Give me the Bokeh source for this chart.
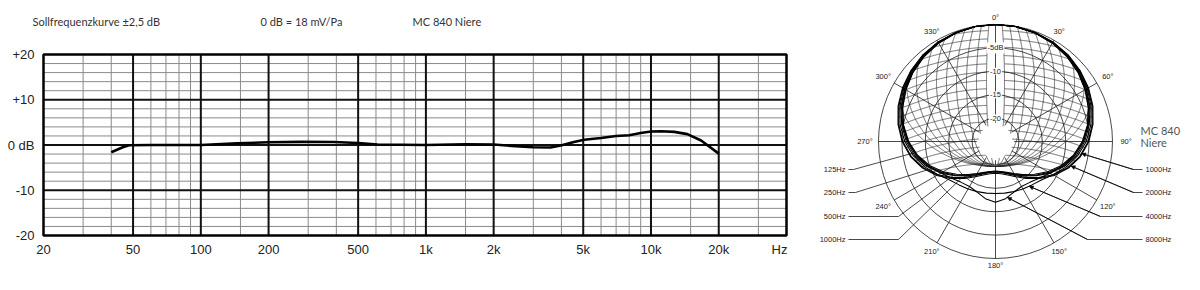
import numpy as np
from bokeh.plotting import figure
from bokeh.layouts import row
from bokeh.models import Range1d, Arrow, NormalHead
from bokeh.core.properties import value
from bokeh.embed import file_html
from bokeh.resources import INLINE

# ---------------- data: frequency response ----------------
freq_hz = [40, 45, 48, 60, 100, 145, 200, 280, 390, 500, 610, 1000, 1500, 2000, 2500,
           3000, 3580, 3970, 4550, 5050, 6000, 7000, 8000, 9000, 10000, 11100, 12700,
           14500, 16700, 20000]
level_db = [-1.6, -0.5, -0.05, 0.0, 0.0, 0.35, 0.6, 0.7, 0.65, 0.45, 0.1, 0.0, 0.15, 0.1, -0.25,
            -0.5, -0.55, -0.1, 0.65, 1.15, 1.55, 2.0, 2.15, 2.65, 3.0, 3.05, 2.9,
            2.4, 1.0, -1.9]

x_tick_values = [20, 50, 100, 200, 500, 1000, 2000, 5000, 10000, 20000]
x_tick_labels = ["20", "50", "100", "200", "500", "1k", "2k", "5k", "10k", "20k"]
x_unit_label = "Hz"
y_tick_values = [-20, -10, 0, 10, 20]
y_tick_labels = ["-20", "-10", "0 dB", "+10", "+20"]
x_grid_major = [50, 100, 200, 500, 1000, 2000, 5000, 10000, 20000]
x_grid_minor = [30, 40, 60, 70, 80, 90, 150, 300, 400, 600, 700, 800, 900, 1500,
                3000, 4000, 6000, 7000, 8000, 9000, 15000, 30000]
y_grid_major = [-10, 0, 10]
y_grid_minor = [-18, -16, -14, -12, -8, -6, -4, -2, 2, 4, 6, 8, 12, 14, 16, 18]
x_min, x_max = 20, 40000
y_min, y_max = -20, 20
header_texts = ["Sollfrequenzkurve ±2,5 dB", "0 dB = 18 mV/Pa", "MC 840 Niere"]

# ---------------- data: polar pattern (dB, symmetric, 0..180 deg) ----------------
polar_angles = [0, 10, 20, 30, 40, 50, 60, 70, 80, 90, 100, 110, 120, 130, 140, 150, 160, 170, 180]
pattern_125 = [0, -0.05, -0.25, -0.6, -1.1, -1.75, -2.55, -3.5, -4.65, -5.95, -7.5, -9.4, -11.5, -13.6, -15.4, -16.8, -17.8, -18.4, -18.6]
pattern_250 = [0, -0.05, -0.25, -0.6, -1.15, -1.85, -2.65, -3.65, -4.85, -6.2, -7.8, -9.7, -11.8, -13.8, -15.6, -17.0, -17.9, -18.4, -18.6]
pattern_500 = [0, -0.05, -0.3, -0.65, -1.2, -1.95, -2.8, -3.85, -5.05, -6.45, -8.1, -10.0, -12.1, -14.1, -15.8, -17.1, -18.0, -18.5, -18.7]
pattern_1000 = [0, -0.05, -0.2, -0.5, -0.95, -1.5, -2.2, -3.0, -4.0, -5.2, -6.7, -8.6, -10.8, -13.0, -15.0, -16.6, -17.7, -18.3, -18.5]
pattern_2000 = [0, -0.05, -0.2, -0.45, -0.85, -1.4, -2.05, -2.85, -3.85, -5.05, -6.55, -8.4, -10.5, -12.7, -14.7, -16.3, -17.4, -18.0, -18.2]
pattern_4000 = [0, -0.05, -0.25, -0.55, -1.0, -1.6, -2.35, -3.25, -4.3, -5.6, -7.2, -9.0, -10.8, -12.2, -12.9, -13.3, -13.6, -13.8, -13.9]
pattern_8000 = [0, -0.1, -0.35, -0.75, -1.3, -2.0, -2.9, -3.9, -5.0, -6.3, -7.9, -9.7, -11.5, -12.8, -13.6, -13.9, -13.5, -12.6, -12.0]
patterns = {"125Hz": pattern_125, "250Hz": pattern_250, "500Hz": pattern_500,
            "1000Hz": pattern_1000, "2000Hz": pattern_2000, "4000Hz": pattern_4000,
            "8000Hz": pattern_8000}

ring_db = [0, -5, -10, -15, -20]
ring_label_db = [-5, -10, -15, -20]
ring_labels = ["-5dB", "-10", "-15", "-20"]
spoke_angles = [0, 30, 60, 90, 120, 150, 180, 210, 240, 270, 300, 330]
spoke_labels = ["0°", "30°", "60°", "90°", "120°", "150°", "180°", "210°", "240°", "270°", "300°", "330°"]
left_labels = ["125Hz", "250Hz", "500Hz", "1000Hz"]
left_targets_deg = [262, 247, 231, 223]
right_labels = ["1000Hz", "2000Hz", "4000Hz", "8000Hz"]
right_targets_deg = [98, 108, 143, 168]
model_texts = ["MC 840", "Niere"]

# ---------------- frequency response figure ----------------
H = 290
W1 = 800
FL, FR, FT, FB = 43, 786, 54, 235
TXT_FONT = "Lato"
LAB_FONT = "Liberation Sans"

dec = np.log10(x_max / x_min)
def fx(px):
    return x_min * 10 ** ((px - FL) / (FR - FL) * dec)
def fy(py):
    return y_max - (py - FT) / (FB - FT) * (y_max - y_min)

p = figure(width=W1, height=H, x_axis_type="log", x_range=Range1d(fx(0), fx(W1)),
           y_range=Range1d(fy(H), fy(0)), output_backend="svg", toolbar_location=None,
           x_axis_location=None, y_axis_location=None, min_border=0)
p.xgrid.visible = False
p.ygrid.visible = False
p.outline_line_color = None
p.background_fill_color = "white"
p.border_fill_color = "white"

p.segment(x0=x_grid_minor, y0=[y_min] * len(x_grid_minor), x1=x_grid_minor,
          y1=[y_max] * len(x_grid_minor), line_color="#8a8a8a", line_width=1)
p.segment(x0=[x_min] * len(y_grid_minor), y0=y_grid_minor, x1=[x_max] * len(y_grid_minor),
          y1=y_grid_minor, line_color="#8a8a8a", line_width=1)
p.segment(x0=x_grid_major, y0=[y_min] * len(x_grid_major), x1=x_grid_major,
          y1=[y_max] * len(x_grid_major), line_color="#111111", line_width=2)
p.segment(x0=[x_min] * len(y_grid_major), y0=y_grid_major, x1=[x_max] * len(y_grid_major),
          y1=y_grid_major, line_color="#111111", line_width=2)
p.quad(left=[x_min], right=[x_max], bottom=[y_min], top=[y_max], fill_color=None,
       line_color="black", line_width=2.5)

p.line(freq_hz, level_db, line_color="black", line_width=2.6)

p.text(x=x_tick_values, y=[y_min] * len(x_tick_values), text=x_tick_labels, y_offset=14,
       text_align="center", text_baseline="middle", text_font=value(LAB_FONT),
       text_font_size="13px", text_color="#222222")
p.text(x=[fx(779)], y=[y_min], text=[x_unit_label], y_offset=14, text_align="center",
       text_baseline="middle", text_font=value(LAB_FONT), text_font_size="13px",
       text_color="#222222")
p.text(x=[x_min] * len(y_tick_values), y=y_tick_values, text=y_tick_labels, x_offset=-9,
       text_align="right", text_baseline="middle", text_font=value(LAB_FONT),
       text_font_size="13px", text_color="#222222")
p.text(x=[fx(px) for px in (32, 260, 412)], y=[fy(21)] * 3, text=header_texts,
       text_align="left", text_baseline="middle", text_font=value(TXT_FONT),
       text_font_size="11px", text_color="#333333")

# ---------------- polar figure ----------------
W2 = 400
K = 4.68          # pixels per dB of radius
CX, CY = 195, 141  # centre in canvas pixels
R0 = 25.0          # radius of the 0 dB ring (dB units)

q = figure(width=W2, height=H, x_range=Range1d(-CX / K, (W2 - CX) / K),
           y_range=Range1d(-(H - CY) / K, CY / K), output_backend="svg",
           toolbar_location=None, x_axis_location=None, y_axis_location=None, min_border=0)
q.xgrid.visible = False
q.ygrid.visible = False
q.outline_line_color = None
q.background_fill_color = "white"
q.border_fill_color = "white"

def pol(r, deg):
    t = np.radians(deg)
    return r * np.sin(t), r * np.cos(t)

curves_r = {k: R0 + np.array(v, dtype=float) for k, v in patterns.items()}
env = np.max(np.vstack(list(curves_r.values())), axis=0)

# mesh ("globe" shading inside the pattern envelope)
YC, BM = 59 / K, 84 / K           # meridian ellipse centre / half-height
A0 = 9 / K                        # innermost meridian half-width

def inside(x, y, strip):
    r = np.hypot(x, y)
    th = np.degrees(np.arctan2(np.abs(x), y))
    m = (r <= np.interp(th, polar_angles, env) - 0.05) & (r >= 3.6)
    if strip:
        m &= ((x / A0) ** 2 + ((y - YC) / BM) ** 2) >= 1.0
    return m

def runs(x, y, strip):
    m = inside(x, y, strip)
    out = []
    start = None
    n = len(m)
    for i in range(n):
        if m[i] and start is None:
            start = i
        if start is not None and (not m[i] or i == n - 1):
            end = i if not m[i] else i + 1
            if end - start >= 2:
                out.append((x[start:end].tolist(), y[start:end].tolist()))
            start = None
    return out

mesh_xs, mesh_ys = [], []
tt = np.linspace(-np.pi / 2, np.pi / 2, 721)
for k in range(10):
    a = (9 + 10 * k) / K
    for sgn in (1, -1):
        for xx, yy in runs(sgn * a * np.cos(tt), YC + BM * np.sin(tt), False):
            mesh_xs.append(xx); mesh_ys.append(yy)
xp = np.linspace(-R0, R0, 801)
for y_px in np.arange(30, 170, 8.3):
    yk = (CY - y_px) / K
    yy = yk - 0.0022 * K * xp ** 2
    for xx, yv in runs(xp, yy, True):
        mesh_xs.append(xx); mesh_ys.append(yv)
q.multi_line(mesh_xs, mesh_ys, line_color="#2a2a2a", line_width=0.7)

# rings and spokes
q.circle(x=[0] * len(ring_db), y=[0] * len(ring_db), radius=[R0 + d for d in ring_db],
         fill_color=None, line_color="#1a1a1a", line_width=0.8)
sx0, sy0 = pol(4.0, np.array(spoke_angles))
sx1, sy1 = pol(R0, np.array(spoke_angles))
q.segment(x0=sx0, y0=sy0, x1=sx1, y1=sy1, line_color="#1a1a1a", line_width=0.8)

# frequency curves
full_ang = polar_angles + [360 - a for a in reversed(polar_angles[:-1])]
for name, vals in patterns.items():
    rv = R0 + np.array(list(vals) + list(reversed(vals[:-1])), dtype=float)
    cx_, cy_ = pol(rv, np.array(full_ang))
    q.line(cx_, cy_, line_color="black", line_width=1.1)

# leader lines
def curve_point(name, deg):
    d = deg if deg <= 180 else 360 - deg
    r = R0 + np.interp(d, polar_angles, patterns[name])
    return pol(r, deg)

row_px = [28, 51, 75, 98]
left_elbow_px = [-142, -140, -97, -97]
right_elbow_px = [138, 138, 105, 92]
lx, ly = [], []
for lab, deg, rp, ep in zip(left_labels, left_targets_deg, row_px, left_elbow_px):
    px_, py_ = curve_point(lab, deg)
    lx.append([-147 / K, ep / K, px_]); ly.append([-rp / K, -rp / K, py_])
for lab, deg, rp, ep in zip(right_labels, right_targets_deg, row_px, right_elbow_px):
    px_, py_ = curve_point(lab, deg)
    lx.append([147 / K, ep / K, px_]); ly.append([-rp / K, -rp / K, py_])
    q.add_layout(Arrow(x_start=ep / K, y_start=-rp / K, x_end=px_, y_end=py_, line_width=0.8,
                       end=NormalHead(size=4, fill_color="black", line_color="black", line_width=0.5)))
q.multi_line(lx, ly, line_color="#1a1a1a", line_width=0.8)

q.text(x=[-150 / K] * 4, y=[-r / K for r in row_px], text=left_labels, text_align="right",
       text_baseline="middle", text_font=value(LAB_FONT), text_font_size="7.5px", text_color="#222222")
q.text(x=[150 / K] * 4, y=[-r / K for r in row_px], text=right_labels, text_align="left",
       text_baseline="middle", text_font=value(LAB_FONT), text_font_size="7.5px", text_color="#222222")

sa = np.array(spoke_angles)
rl = 26.5 + 1.4 * np.abs(np.sin(np.radians(sa)))
alx, aly = pol(rl, sa)
q.text(x=alx, y=aly, text=spoke_labels, text_align="center", text_baseline="middle",
       text_font=value(LAB_FONT), text_font_size="7.5px", text_color="#222222")

q.text(x=[0] * len(ring_label_db), y=[R0 + d for d in ring_label_db], text=ring_labels,
       text_align="center", text_baseline="middle", text_font=value(LAB_FONT),
       text_font_size="7.5px", text_color="#222222", background_fill_color="white", padding=1)

q.text(x=[(1140 - 995) / K] * 2, y=[(141 - 130) / K, (141 - 142) / K], text=model_texts,
       text_align="left", text_baseline="middle", text_font=value(TXT_FONT), text_font_size="11px",
       text_color="#555555")

layout = row(p, q)
with open("out.html", "w", encoding="utf-8") as f:
    f.write(file_html(layout, INLINE, "MC 840"))
